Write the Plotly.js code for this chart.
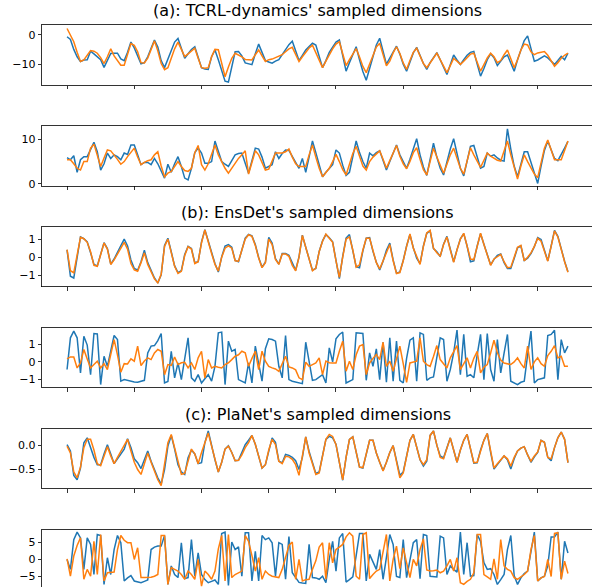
<!DOCTYPE html>
<html><head><meta charset="utf-8">
<script src="https://cdn.plot.ly/plotly-3.0.1.min.js"></script>
<style>html,body{margin:0;padding:0;overflow:hidden;background:#fff}#plot{width:600px;height:600px}</style>
</head><body><div id="plot"></div>
<script>
// ---------- data ----------
const panelTitles = ["(a): TCRL-dynamics' sampled dimensions", null, "(b): EnsDet's sampled dimensions", null, "(c): PlaNet's sampled dimensions", null];

const tcrlDim1Blue = [-0.7,-1.6,-5.0,-7.5,-9.1,-8.6,-8.5,-5.6,-6.5,-7.4,
-8.5,-11.1,-8.8,-6.4,-6.3,-6.3,-8.2,-8.8,-6.0,-2.5,
-4.5,-7.5,-9.9,-9.5,-7.5,-4.6,-1.8,-4.2,-8.8,-11.2,
-8.5,-5.5,-2.5,-1.3,-5.0,-8.0,-6.5,-5.0,-4.1,-8.0,
-11.2,-11.7,-11.8,-7.5,-5.2,-8.5,-12.5,-15.8,-16.1,-10.5,
-5.8,-5.7,-7.2,-9.6,-9.8,-10.2,-6.5,-3.2,-6.0,-8.8,
-9.3,-9.7,-9.0,-8.5,-6.8,-5.0,-3.4,-2.2,-5.5,-8.8,
-7.0,-5.2,-4.0,-2.9,-3.5,-7.5,-11.2,-8.8,-6.0,-4.2,
-2.5,-1.8,-7.0,-12.4,-9.5,-6.7,-4.1,-8.5,-12.5,-15.5,
-11.5,-7.5,-3.5,-1.2,-5.8,-10.0,-8.0,-5.8,-3.9,-6.6,
-10.0,-12.4,-9.3,-6.2,-4.3,-7.0,-9.8,-11.8,-9.5,-7.8,
-6.1,-8.5,-11.2,-13.5,-10.2,-6.9,-8.6,-10.1,-8.5,-7.0,
-6.0,-5.7,-10.0,-14.1,-11.5,-8.5,-6.5,-7.8,-10.5,-9.0,
-7.5,-6.9,-9.8,-12.4,-8.5,-5.0,-2.0,-0.4,-5.0,-9.0,
-8.6,-7.8,-7.2,-7.9,-9.0,-10.1,-8.8,-7.4,-8.5,-6.3];
const tcrlDim1Orange = [2.1,-0.4,-2.4,-6.0,-9.1,-8.6,-7.0,-5.4,-5.6,-6.3,
-7.8,-9.8,-7.5,-4.8,-7.2,-9.0,-10.4,-10.4,-6.5,-3.0,
-3.6,-5.8,-9.5,-9.6,-8.0,-4.8,-2.1,-5.5,-9.8,-11.9,
-11.2,-8.0,-4.8,-2.5,-5.0,-7.4,-6.5,-5.5,-4.6,-8.0,
-11.2,-11.4,-11.2,-7.5,-5.0,-5.1,-9.5,-14.3,-11.0,-8.0,
-6.3,-6.9,-7.5,-8.4,-8.5,-8.6,-6.8,-5.2,-7.2,-9.1,
-8.5,-8.3,-7.8,-7.4,-6.8,-5.8,-4.8,-4.3,-6.5,-9.1,
-7.5,-5.8,-4.5,-3.6,-6.2,-9.0,-11.2,-9.0,-6.8,-4.8,
-3.2,-2.4,-6.5,-10.5,-8.5,-6.4,-4.7,-7.6,-10.8,-12.9,
-10.0,-6.8,-4.2,-2.9,-7.0,-10.6,-9.0,-6.2,-4.1,-6.4,
-9.6,-11.8,-8.8,-6.0,-4.6,-7.2,-9.8,-11.2,-9.5,-7.8,
-6.3,-8.5,-11.0,-12.9,-10.5,-8.1,-9.0,-10.1,-9.0,-7.8,
-6.6,-6.3,-9.5,-12.4,-10.2,-7.9,-6.3,-7.5,-9.5,-8.8,
-6.8,-5.2,-8.2,-11.2,-8.5,-5.2,-3.2,-3.5,-5.8,-6.8,
-6.2,-5.9,-5.7,-7.0,-8.9,-10.7,-9.5,-8.0,-7.0,-6.3];

const tcrlDim2Blue = [5.9,5.4,6.3,2.6,5.4,6.1,6.1,7.8,9.3,7.2,
3.1,4.5,6.9,5.7,6.5,6.1,5.4,6.9,6.6,8.7,
8.7,6.5,4.3,4.8,4.8,4.3,5.7,4.5,2.8,1.3,
4.4,2.6,4.5,6.1,3.9,1.3,0.9,3.5,7.0,8.0,
6.9,4.6,4.6,5.0,9.6,7.2,5.0,4.4,3.9,5.2,
6.5,6.8,6.9,4.6,2.4,5.2,8.0,7.8,6.0,3.5,
4.0,4.3,7.2,5.7,6.8,7.6,7.5,6.2,4.8,3.5,
5.7,2.6,6.0,9.6,7.0,4.2,1.6,2.6,3.5,4.3,
7.6,6.9,4.2,1.9,2.6,6.0,9.6,7.0,5.0,3.5,
6.9,6.3,7.0,7.4,5.0,3.1,5.0,7.0,8.7,6.5,
4.8,3.5,5.5,7.8,10.1,6.5,3.8,1.9,5.6,9.1,
6.0,3.5,2.0,5.0,7.8,10.1,6.5,3.5,1.8,5.5,
8.4,8.6,6.0,3.5,3.9,6.9,6.2,6.5,5.8,5.3,
5.1,12.3,7.8,4.0,1.6,4.5,7.2,7.2,5.0,2.4,
0.1,4.0,7.5,9.6,7.5,5.7,5.2,6.5,8.0,9.5];
const tcrlDim2Orange = [5.4,5.4,4.5,3.5,3.1,5.0,5.0,8.0,8.9,6.5,
3.9,5.8,7.6,7.4,6.5,5.5,4.4,5.0,6.1,7.0,
8.0,6.0,4.3,4.8,5.2,5.4,6.5,7.2,4.0,1.6,
2.4,2.8,4.0,5.0,3.9,3.0,2.8,3.5,7.0,8.6,
4.3,3.1,4.5,6.8,8.7,6.5,5.0,3.5,2.4,3.5,
4.4,5.7,6.5,7.4,2.2,5.0,7.4,6.5,4.8,3.1,
3.3,5.0,6.9,6.9,6.9,7.2,7.8,6.0,4.5,3.9,
3.9,3.9,6.5,8.7,6.0,3.5,1.6,2.5,3.5,5.0,
6.6,5.0,3.2,2.0,4.5,6.8,8.4,6.0,4.0,3.1,
5.0,6.0,6.8,7.4,5.5,3.5,5.2,7.0,8.6,6.2,
4.5,3.4,5.0,7.0,8.1,5.5,3.2,2.0,5.0,8.0,
6.0,4.0,2.4,4.4,6.5,8.0,5.5,3.5,2.2,5.0,
8.1,6.5,5.0,3.7,5.3,6.9,6.2,5.7,5.3,5.1,
7.5,9.6,6.5,3.5,1.1,4.0,6.5,5.0,3.5,2.2,
1.4,5.0,8.0,9.8,7.5,5.4,5.4,5.4,7.5,9.6];

const ensDim1Blue = [0.40,-1.05,-1.15,0.00,1.12,1.02,0.85,0.25,-0.40,-0.48,
0.15,0.80,0.48,-0.38,-0.10,0.25,0.60,1.00,0.62,-0.15,
-0.62,-0.72,-0.25,0.38,-0.30,-0.75,-1.15,-1.42,-0.98,0.65,
1.05,0.30,-0.48,-0.85,-0.75,0.15,0.60,0.48,-0.30,-0.25,
0.85,1.52,0.85,0.25,-0.35,-0.82,0.02,0.62,0.70,0.55,
-0.18,-0.25,0.42,1.05,1.26,1.18,0.70,-0.02,-0.55,-0.28,
1.10,0.78,-0.08,-0.38,0.20,0.20,0.10,-0.35,-0.72,0.02,
1.22,0.55,-0.15,-0.72,-0.62,0.32,0.90,1.25,1.08,0.85,
-0.18,-1.18,0.05,1.05,1.25,0.45,-0.52,-0.58,0.35,1.05,
1.08,0.32,-0.28,-0.70,-0.22,0.38,0.78,-0.15,-0.88,-0.82,
-0.18,0.62,1.25,0.52,-0.05,-0.35,0.62,1.32,1.46,0.48,
0.30,0.04,0.72,1.15,0.42,-0.25,0.42,1.02,1.30,0.62,
-0.25,-0.20,0.62,1.30,0.72,0.12,-0.42,-0.12,0.10,0.18,
-0.30,-0.62,-0.62,-0.08,0.52,0.62,-0.18,-0.05,0.20,0.58,
1.08,0.98,0.32,-0.20,0.62,1.48,1.15,0.42,-0.22,-0.80];
const ensDim1Orange = [0.42,-0.75,-0.86,0.05,1.10,1.02,0.82,0.30,-0.45,-0.50,
0.10,0.78,0.45,-0.40,-0.15,0.20,0.50,0.82,0.45,-0.35,
-0.70,-0.78,-0.30,0.24,-0.40,-0.85,-1.20,-1.42,-0.95,0.60,
1.00,0.25,-0.50,-0.90,-0.78,0.10,0.58,0.45,-0.35,-0.25,
0.80,1.50,0.80,0.20,-0.40,-0.77,0.00,0.50,0.62,0.50,
-0.20,-0.22,0.40,1.00,1.24,1.15,0.65,-0.05,-0.58,-0.30,
1.00,0.70,-0.13,-0.40,0.18,0.18,0.05,-0.45,-0.75,0.00,
1.20,0.52,-0.20,-0.75,-0.60,0.30,0.88,1.28,1.05,0.82,
-0.20,-1.12,0.00,1.00,1.12,0.40,-0.55,-0.42,0.40,1.05,
1.05,0.30,-0.30,-0.65,-0.20,0.35,0.70,-0.20,-0.90,-0.85,
-0.20,0.60,1.28,0.50,0.00,-0.40,0.60,1.34,1.48,0.50,
0.25,0.06,0.70,1.12,0.40,-0.28,0.40,1.00,1.32,0.60,
-0.10,-0.13,0.60,1.32,0.70,0.10,-0.45,-0.10,0.05,0.15,
-0.25,-0.58,-0.55,-0.05,0.55,0.65,-0.20,0.00,0.24,0.60,
1.05,0.88,0.30,-0.22,0.60,1.45,1.12,0.40,-0.25,-0.83];

const ensDim2Blue = [-0.43,1.36,1.74,1.36,-0.62,1.45,0.95,-0.72,1.60,1.58,
-1.28,0.32,-0.25,0.60,1.49,1.26,-1.09,-1.00,-1.05,-1.10,
-1.13,-1.15,-1.08,-1.04,0.51,0.89,0.92,1.20,1.60,-1.19,
-1.10,0.60,-0.90,-0.06,-1.00,0.30,1.36,-0.90,-1.09,-0.72,
-1.19,-0.95,-0.72,-1.09,-0.25,1.64,1.68,-1.28,1.17,0.60,
0.70,-1.00,-1.10,-1.19,-0.06,-1.19,0.89,-0.20,-1.09,0.74,
1.30,1.26,1.17,-0.25,-0.90,1.49,-1.00,-1.09,-1.15,-1.20,
-1.23,1.11,-0.06,-1.04,-1.00,-0.85,-0.72,-1.19,0.79,0.00,
1.30,1.55,1.68,-1.19,-1.10,-1.00,1.64,1.62,1.60,-1.04,
0.51,-0.25,0.74,-1.00,1.11,-1.15,1.36,-1.09,1.17,-1.04,
-1.19,0.20,1.23,1.36,-1.09,1.64,1.55,-1.04,-0.90,-0.85,
0.30,1.36,1.26,-1.09,-0.43,0.51,1.79,-0.72,1.55,-0.81,
-0.72,-0.90,0.40,1.55,-1.00,1.60,-0.43,-1.09,1.26,-0.62,
0.50,1.55,-1.09,-1.20,-1.28,-1.15,-1.09,0.40,1.74,-1.19,
-1.00,-0.95,-0.90,1.49,1.55,1.79,-1.00,1.26,0.51,0.89];
const ensDim2Orange = [0.17,0.28,0.28,-0.34,-0.06,0.70,0.17,-0.34,-0.15,0.04,
-0.34,-0.10,-0.43,0.40,1.26,0.40,-0.58,-0.10,-0.12,0.17,
0.04,0.89,-0.21,0.05,0.23,0.13,0.50,0.70,0.60,-0.72,
-0.15,-0.20,0.28,-0.15,-0.05,-0.02,-0.34,-0.06,-0.43,0.23,
0.60,-0.90,0.13,-0.34,-0.25,-0.30,-0.34,-0.15,-0.05,0.13,
0.32,0.40,0.60,0.51,-0.25,0.20,0.60,-0.43,0.60,0.04,
-0.25,-0.34,-0.40,-0.53,-0.10,0.32,-0.28,-0.34,-0.45,-0.90,
-1.00,-0.02,-0.25,-0.15,-0.06,0.23,-0.72,0.04,-0.05,-0.06,
-0.06,0.60,1.17,-0.53,0.04,-0.43,0.40,0.89,0.98,-0.72,
-0.06,0.20,0.42,0.13,1.11,-0.25,0.04,-0.53,0.20,0.89,
-0.10,-1.15,-0.06,0.00,0.04,1.36,0.04,-0.15,-0.25,0.30,
0.92,0.13,-0.10,-0.34,0.23,0.55,0.92,-0.43,-0.10,0.23,
-0.34,0.20,0.60,-0.62,-0.30,-0.15,0.50,1.23,0.51,0.10,
-0.06,-0.10,-0.15,0.00,0.23,-0.10,-0.34,0.89,-0.43,0.00,
0.23,-0.10,-0.25,0.36,0.60,0.92,0.23,0.32,-0.25,-0.25];

const planetDim1Blue = [0.01,-0.12,-0.62,-0.71,-0.47,0.05,0.15,-0.05,-0.25,-0.40,
-0.40,-0.18,0.01,-0.18,-0.38,-0.28,-0.18,-0.08,0.13,-0.05,
-0.28,-0.36,-0.48,-0.30,-0.12,-0.33,-0.52,-0.67,-0.80,-0.50,
-0.02,0.20,-0.08,-0.40,-0.55,-0.60,-0.26,-0.10,-0.18,-0.38,
-0.36,0.05,0.29,-0.02,-0.30,-0.55,-0.35,-0.08,-0.01,-0.15,
-0.32,-0.31,-0.15,0.01,0.10,0.20,0.02,-0.25,-0.47,-0.40,
-0.10,0.15,0.06,-0.33,-0.36,-0.19,-0.21,-0.25,-0.32,-0.50,
-0.25,0.17,-0.13,-0.35,-0.58,-0.55,-0.20,0.12,0.18,0.15,
0.02,-0.35,-0.72,-0.25,0.12,0.17,-0.15,-0.45,-0.47,-0.15,
0.10,0.10,-0.16,-0.35,-0.52,-0.35,-0.15,-0.01,-0.32,-0.62,
-0.55,-0.20,0.10,0.22,-0.05,-0.30,-0.43,-0.33,0.20,0.29,
0.00,-0.22,-0.26,-0.05,0.15,-0.10,-0.35,-0.10,0.10,0.22,
-0.10,-0.37,-0.36,-0.10,0.10,0.24,-0.15,-0.49,-0.40,-0.30,
-0.22,-0.30,-0.49,-0.28,-0.12,-0.06,-0.03,-0.20,-0.35,-0.24,
-0.15,0.10,0.06,-0.25,-0.32,-0.05,0.15,0.27,0.12,-0.36];
const planetDim1Orange = [-0.02,-0.16,-0.55,-0.67,-0.45,-0.05,0.12,0.12,-0.10,-0.38,
-0.42,-0.22,-0.03,-0.22,-0.38,-0.25,-0.12,0.00,0.12,-0.12,
-0.35,-0.50,-0.60,-0.38,-0.16,-0.35,-0.55,-0.71,-0.83,-0.35,
0.05,0.22,-0.05,-0.35,-0.60,-0.58,-0.30,-0.08,-0.18,-0.38,
-0.15,0.05,0.25,-0.02,-0.30,-0.55,-0.35,-0.08,-0.02,-0.15,
-0.32,-0.31,-0.20,-0.05,0.05,0.20,0.02,-0.25,-0.47,-0.40,
-0.10,0.12,0.01,-0.33,-0.38,-0.23,-0.24,-0.29,-0.40,-0.62,
-0.25,0.17,-0.16,-0.40,-0.60,-0.57,-0.20,0.12,0.22,0.18,
0.01,-0.35,-0.71,-0.25,0.12,0.17,-0.15,-0.45,-0.46,-0.15,
0.10,0.10,-0.16,-0.35,-0.53,-0.35,-0.15,-0.01,-0.35,-0.67,
-0.57,-0.20,0.10,0.22,-0.05,-0.30,-0.40,-0.30,0.20,0.29,
0.00,-0.25,-0.28,-0.05,0.15,-0.10,-0.35,-0.10,0.10,0.22,
-0.10,-0.36,-0.35,-0.10,0.10,0.24,-0.15,-0.47,-0.38,-0.30,
-0.22,-0.28,-0.43,-0.25,-0.12,-0.06,-0.03,-0.20,-0.33,-0.22,
-0.14,0.10,0.06,-0.25,-0.28,-0.05,0.15,0.27,0.12,-0.36];

const planetDim2Blue = [-0.1,-3.0,5.7,7.9,6.2,-3.0,6.2,4.3,-4.5,7.2,
6.9,-7.4,0.4,-4.5,2.8,6.9,4.8,-6.4,-5.5,-4.8,
-6.4,-6.7,-6.9,-6.5,-6.1,2.8,3.5,3.8,3.8,6.9,
-7.4,-2.0,-4.5,-5.4,4.8,-5.7,-5.4,5.7,-5.0,1.8,
-4.5,-6.0,-6.9,-6.5,-6.1,-7.4,7.5,7.9,-7.7,5.0,
2.8,3.6,-5.0,7.7,7.7,-6.4,2.3,-6.4,6.9,5.7,
6.2,4.8,-5.0,4.8,4.3,-5.9,6.6,-4.0,-5.5,-6.8,
-7.0,-7.1,4.3,-5.4,-5.5,-5.9,-5.0,-6.9,0.0,5.2,
-3.5,6.2,7.5,-6.7,-6.0,-5.2,1.0,7.5,7.5,-6.4,
1.4,-1.0,-3.0,2.8,-5.9,0.5,7.2,4.3,-5.1,-5.4,
5.7,-5.4,0.0,4.8,5.7,-5.7,7.2,6.9,-5.0,-5.1,
-5.2,6.7,6.2,-4.5,-2.0,-3.0,-3.8,7.9,-4.5,4.8,
-5.0,-4.8,7.2,5.2,-1.0,-3.0,-2.8,-4.5,-7.4,-6.0,
-4.5,2.8,6.9,-4.8,-7.4,-5.5,-4.2,-3.5,2.0,7.9,
-6.4,-5.5,-5.0,-2.0,6.5,6.5,7.9,-5.9,5.2,1.8];
const planetDim2Orange = [0.1,-5.0,0.9,4.0,6.2,-5.9,-3.0,-5.0,5.2,-4.5,
7.2,-6.4,-4.0,-3.9,-3.8,2.8,6.9,5.5,4.8,4.8,
-0.1,3.3,-5.4,-5.4,-5.4,-5.3,-5.0,-4.5,6.9,6.9,
-7.4,-2.5,-3.0,-3.5,-4.5,-5.9,-3.5,-4.5,-5.9,-0.1,
-7.9,-3.5,-4.5,-5.9,-3.5,3.0,6.9,-6.4,7.2,-5.4,
-4.5,-4.0,-3.5,6.9,5.2,1.0,-3.5,0.4,-5.9,-3.5,
-4.5,-5.0,-5.2,-5.4,-3.0,0.9,4.0,5.0,-5.9,-0.1,
-6.4,-6.0,-5.9,-3.0,-0.5,3.5,4.8,-5.9,4.8,-1.1,
2.8,3.5,4.3,6.5,7.7,6.7,-5.0,-5.9,7.2,7.7,
-5.7,-4.5,-3.5,-3.0,2.0,7.2,-6.4,-0.1,3.8,-2.8,
3.3,-1.0,-5.4,-0.1,-2.0,2.8,5.9,-3.2,-3.5,-3.4,
-3.2,-4.0,-3.5,-2.0,-0.1,-3.5,0.4,-6.9,-7.4,-6.5,
-5.9,-4.0,7.2,7.2,-4.5,-5.2,-5.9,0.1,-5.9,5.7,
-2.0,-3.0,-3.5,-5.4,-5.9,-5.2,-4.5,-3.5,2.8,6.9,
-6.4,-5.5,-5.1,-0.1,-5.1,7.5,7.7,-5.9,-0.6,-4.2];

const xTickVals = [0,20,40,60,80,100,120,140];
const yTickVals = [[-10,0],[0,10],[-1,0,1],[-1,0,1],[-0.5,0.0],[-5,0,5]];
const yTickFormats = ['d','d','d','d','.1f','d'];

// ---------- build ----------
const seriesPairs = [
  [tcrlDim1Blue, tcrlDim1Orange],
  [tcrlDim2Blue, tcrlDim2Orange],
  [ensDim1Blue, ensDim1Orange],
  [ensDim2Blue, ensDim2Orange],
  [planetDim1Blue, planetDim1Orange],
  [planetDim2Blue, planetDim2Orange]
];
const yRanges = [[-17.0,3.3],[-0.38,12.98],[-1.62,1.68],[-1.44,1.93],[-0.885,0.34],[-8.8,8.66]];
const W = 600, H = 600;
const panelTops = [25,125.9,226.8,327.7,428.6,529.5];
const panelH = 59.7;
const xL = 42, xR = 593;
const colors = ['#1f77b4','#ff7f0e'];

const data = [];
const layout = {
  width: W, height: H,
  margin: {l: xL, r: W - xR, t: 0, b: 0, pad: 0},
  paper_bgcolor: '#fff', plot_bgcolor: '#fff',
  showlegend: false,
  font: {family: 'DejaVu Sans', size: 11, color: '#000'},
  annotations: []
};
const axisCommon = {
  showline: true, mirror: true, linecolor: '#000', linewidth: 0.8,
  ticks: 'outside', ticklen: 3.5, tickwidth: 0.8, tickcolor: '#000',
  showgrid: false, zeroline: false, automargin: false,
  tickfont: {family: 'DejaVu Sans', size: 11, color: '#000'}
};
seriesPairs.forEach((pair, k) => {
  const sfx = k === 0 ? '' : String(k + 1);
  pair.forEach((ys, j) => {
    data.push({
      type: 'scatter', mode: 'lines', y: ys,
      xaxis: 'x' + sfx, yaxis: 'y' + sfx,
      line: {color: colors[j], width: 1.5},
      hoverinfo: 'skip'
    });
  });
  const top = panelTops[k];
  const yDom = [1 - (top + panelH) / H, 1 - top / H];
  layout['xaxis' + sfx] = Object.assign({}, axisCommon, {
    domain: [0, 1], anchor: 'y' + sfx,
    range: [-7.45, 156.45], tickmode: 'array', tickvals: xTickVals,
    showticklabels: false
  });
  layout['yaxis' + sfx] = Object.assign({}, axisCommon, {
    domain: yDom, anchor: 'x' + sfx, range: yRanges[k],
    tickmode: 'array', tickvals: yTickVals[k], tickformat: yTickFormats[k]
  });
  if (panelTitles[k]) {
    layout.annotations.push({
      text: panelTitles[k], showarrow: false,
      xref: 'paper', yref: 'paper',
      x: 0.5, xanchor: 'center',
      y: 1 - (top - 3) / H, yanchor: 'bottom',
      font: {family: 'DejaVu Sans', size: 16, color: '#000'}
    });
  }
});
Plotly.newPlot('plot', data, layout, {staticPlot: true, displayModeBar: false});
</script>
</body></html>
